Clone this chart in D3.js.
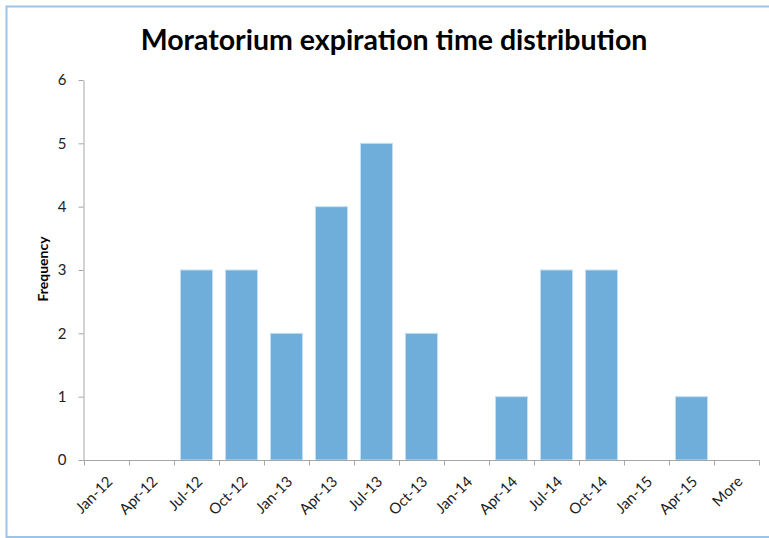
<!DOCTYPE html>
<html>
<head>
<meta charset="utf-8">
<script src="https://cdn.jsdelivr.net/npm/d3@7"></script>
<style>
  body { margin: 0; background: #fff; }
  svg { display: block; }
</style>
</head>
<body>
<div id="chart"></div>
<script>
const categories = ["Jan-12", "Apr-12", "Jul-12", "Oct-12", "Jan-13", "Apr-13", "Jul-13",
  "Oct-13", "Jan-14", "Apr-14", "Jul-14", "Oct-14", "Jan-15", "Apr-15", "More"];
const frequency = [0, 0, 3, 3, 2, 4, 5, 2, 0, 1, 3, 3, 0, 1, 0];
const yTicks = [0, 1, 2, 3, 4, 5, 6];

const width = 769,
  height = 538,
  margin = ({ top: 80, right: 10, bottom: 78, left: 84 });

const svg = d3.select("#chart")
  .append("svg")
  .attr("width", width)
  .attr("height", height);

// chart area border (left, top, bottom only visible)
svg.append("path")
  .attr("d", `M${width},6.5 H6.5 V537 H${width}`)
  .attr("fill", "none")
  .attr("stroke", "#9dc3e6")
  .attr("stroke-width", 2);

let x = d3.scaleBand()
  .domain(categories)
  .range([margin.left, 759])
  .paddingInner(0.286)
  .paddingOuter(0.143);

let y = d3.scaleLinear()
  .domain([0, 6])
  .range([460, 80]);

// bars
svg.append("g")
  .selectAll("rect")
  .data(frequency)
  .join("rect")
    .attr("x", (d, i) => x(categories[i]))
    .attr("y", d => y(d))
    .attr("width", x.bandwidth())
    .attr("height", d => y(0) - y(d))
    .attr("fill", "#6fadda")
    .attr("stroke", "#c4e0f4")
    .attr("stroke-width", 1);

// y axis
const yAxis = svg.append("g")
  .attr("transform", `translate(${margin.left - 0.5},0)`)
  .call(d3.axisLeft(y).tickValues(yTicks).tickFormat(d3.format("d"))
    .tickSize(5).tickSizeOuter(0).tickPadding(12));
yAxis.select(".domain").attr("stroke", "#a6a6a6");
yAxis.selectAll(".tick line").attr("stroke", "#a6a6a6");
yAxis.selectAll(".tick text")
  .attr("font-family", "Lato, 'Open Sans', sans-serif")
  .attr("font-size", 15)
  .attr("fill", "#222");

// x axis: ticks at category boundaries
const xg = svg.append("g").attr("transform", `translate(0,${y(0) + 0.5})`);
xg.append("line")
  .attr("x1", margin.left - 0.5).attr("x2", 759.5)
  .attr("stroke", "#a6a6a6");
const step = x.step();
const bounds = categories.map(c => x(c) - (step - x.bandwidth()) / 2);
bounds.push(bounds[bounds.length - 1] + step);
xg.selectAll(".xtick")
  .data(bounds)
  .join("line")
    .attr("class", "xtick")
    .attr("x1", d => Math.round(d) + 0.5).attr("x2", d => Math.round(d) + 0.5)
    .attr("y1", 0).attr("y2", 5)
    .attr("stroke", "#a6a6a6");
xg.selectAll(".xlabel")
  .data(categories)
  .join("text")
    .attr("class", "xlabel")
    .attr("text-anchor", "end")
    .attr("transform", d => `translate(${x(d) + x.bandwidth() / 2 + 7},${22}) rotate(-45)`)
    .attr("font-family", "Lato, 'Open Sans', sans-serif")
    .attr("font-size", 15)
    .attr("fill", "#222")
    .text(d => d);

// title
svg.append("text")
  .attr("x", 394)
  .attr("y", 50)
  .attr("text-anchor", "middle")
  .attr("font-family", "Lato, 'Open Sans', sans-serif")
  .attr("font-weight", "bold")
  .attr("font-size", 28.5)
  .attr("fill", "#000")
  .text("Moratorium expiration time distribution");

// y label
svg.append("text")
  .attr("transform", `translate(48,269) rotate(-90)`)
  .attr("text-anchor", "middle")
  .attr("font-family", "Lato, 'Open Sans', sans-serif")
  .attr("font-weight", "bold")
  .attr("font-size", 14)
  .text("Frequency");
</script>
</body>
</html>
